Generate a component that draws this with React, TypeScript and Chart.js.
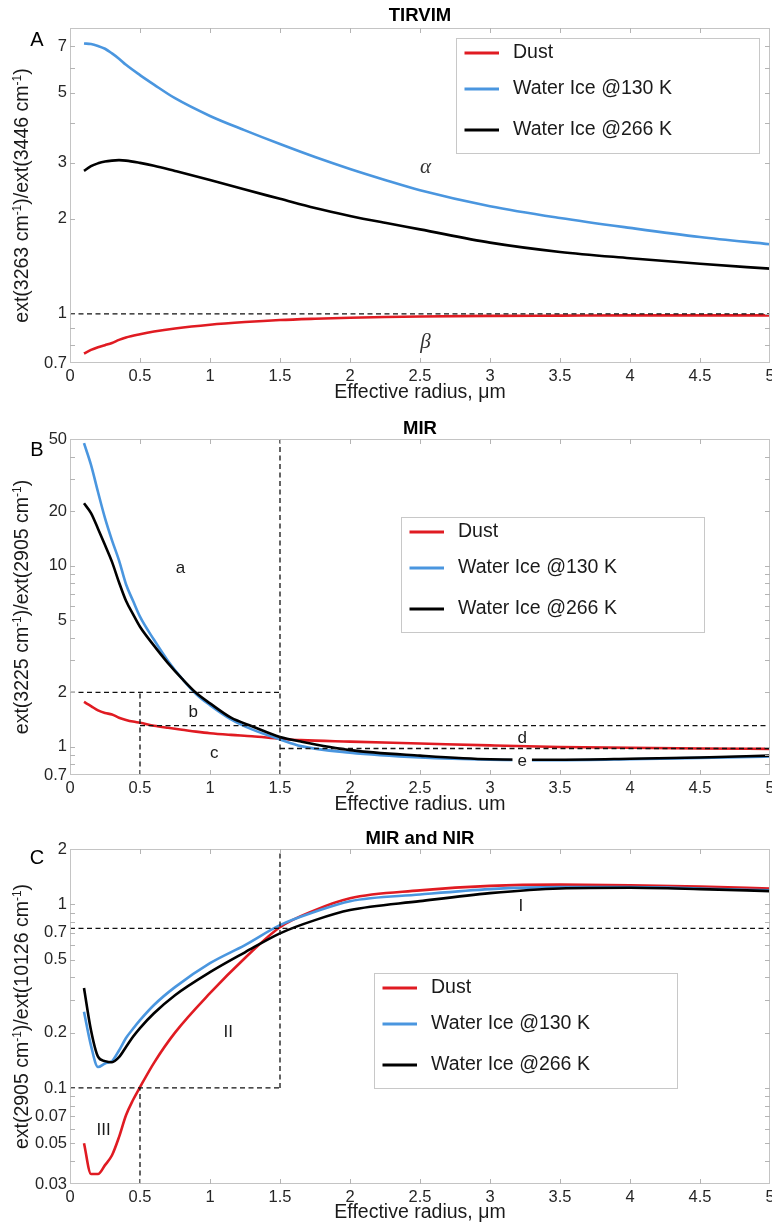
import React, { useEffect, useRef } from "react";
import { Chart, registerables } from "chart.js";

Chart.register(...registerables);

// ---------- shared ----------
const seriesLabels = ["Dust", "Water Ice @130 K", "Water Ice @266 K"];
const seriesColors = ["#e01b22", "#4a96df", "#000000"];
const xTickLabels = ["0", "0.5", "1", "1.5", "2", "2.5", "3", "3.5", "4", "4.5", "5"];

// ---------- panel A (TIRVIM) ----------
const radiusA = [0.1, 0.15, 0.2, 0.25, 0.3, 0.35, 0.4, 0.5, 0.6, 0.75, 1, 1.25, 1.5, 1.75, 2, 2.25, 2.5, 3, 3.5, 4, 4.5, 5];
const dustA = [0.75, 0.77, 0.785, 0.797, 0.81, 0.828, 0.843, 0.863, 0.88, 0.9, 0.925, 0.943, 0.957, 0.966, 0.973, 0.978, 0.982, 0.986, 0.988, 0.99, 0.99, 0.99];
const ice130A = [7.15, 7.12, 7.02, 6.88, 6.65, 6.4, 6.12, 5.68, 5.3, 4.8, 4.22, 3.8, 3.44, 3.13, 2.87, 2.65, 2.46, 2.19, 2.01, 1.87, 1.75, 1.66];
const ice266A = [2.83, 2.93, 2.99, 3.03, 3.05, 3.06, 3.05, 3.0, 2.94, 2.83, 2.65, 2.47, 2.31, 2.16, 2.04, 1.94, 1.85, 1.68, 1.57, 1.5, 1.44, 1.39];
const yTicksA = [0.7, 0.8, 0.9, 1, 2, 3, 4, 5, 6, 7, 8];
const yTickLabelsA = ["0.7", "1", "2", "3", "5", "7"];

// ---------- panel B (MIR) ----------
const radiusB = [0.1, 0.15, 0.2, 0.25, 0.3, 0.35, 0.4, 0.45, 0.5, 0.6, 0.7, 0.8, 0.9, 1, 1.15, 1.3, 1.5, 1.65, 2, 2.5, 3, 3.5, 4, 4.5, 5];
const dustB = [1.77, 1.68, 1.59, 1.54, 1.51, 1.45, 1.41, 1.38, 1.36, 1.31, 1.275, 1.245, 1.215, 1.19, 1.165, 1.145, 1.11, 1.09, 1.07, 1.045, 1.02, 1.0, 0.99, 0.98, 0.975];
const ice130B = [47.4, 36, 25.5, 18.3, 13.8, 10.7, 7.9, 6.4, 5.23, 3.9, 2.98, 2.38, 1.96, 1.7, 1.42, 1.25, 1.1, 1.01, 0.93, 0.875, 0.85, 0.845, 0.855, 0.87, 0.885];
const ice266B = [22.1, 19.5, 16.0, 13.0, 10.5, 8.1, 6.4, 5.4, 4.6, 3.62, 2.9, 2.38, 1.99, 1.74, 1.45, 1.3, 1.135, 1.07, 0.96, 0.895, 0.855, 0.85, 0.86, 0.875, 0.895];
const yTicksB = [0.7, 0.8, 0.9, 1, 2, 3, 4, 5, 6, 7, 8, 9, 10, 20, 30, 40, 50];
const yTickLabelsB = ["0.7", "1", "2", "5", "10", "20", "50"];

// ---------- panel C (MIR and NIR) ----------
const radiusC = [0.1, 0.15, 0.2, 0.25, 0.3, 0.35, 0.4, 0.45, 0.5, 0.6, 0.75, 1, 1.25, 1.5, 1.75, 2, 2.5, 3, 3.5, 4, 4.5, 5];
const dustC = [0.05, 0.034, 0.034, 0.038, 0.043, 0.054, 0.071, 0.086, 0.101, 0.137, 0.2, 0.328, 0.51, 0.75, 0.93, 1.08, 1.19, 1.26, 1.28, 1.27, 1.25, 1.22];
const ice130C = [0.26, 0.17, 0.13, 0.136, 0.14, 0.16, 0.187, 0.21, 0.234, 0.283, 0.354, 0.478, 0.6, 0.77, 0.91, 1.04, 1.13, 1.21, 1.24, 1.24, 1.22, 1.19];
const ice266C = [0.35, 0.206, 0.148, 0.14, 0.138, 0.147, 0.167, 0.19, 0.212, 0.255, 0.32, 0.427, 0.548, 0.695, 0.82, 0.93, 1.04, 1.15, 1.22, 1.23, 1.21, 1.18];
const yTicksC = [0.03, 0.04, 0.05, 0.06, 0.07, 0.08, 0.09, 0.1, 0.2, 0.3, 0.4, 0.5, 0.6, 0.7, 0.8, 0.9, 1, 2];
const yTickLabelsC = ["0.03", "0.05", "0.07", "0.1", "0.2", "0.5", "0.7", "1", "2"];

// ---------- annotations (data coordinates) ----------
type Seg = [number, number, number, number];
type Lbl = { x: number; y: number; text: string; greek?: boolean; bg?: boolean };

const dashedA: Seg[] = [[0, 1.0, 5, 1.0]];
const labelsA: Lbl[] = [
  { x: 2.54, y: 2.9, text: "α", greek: true },
  { x: 2.54, y: 0.815, text: "β", greek: true },
];
const dashedB: Seg[] = [
  [1.5, 0.7, 1.5, 50],
  [0, 2, 1.5, 2],
  [0.5, 0.7, 0.5, 2],
  [0.5, 1.31, 5, 1.31],
  [1.5, 0.98, 5, 0.98],
];
const labelsB: Lbl[] = [
  { x: 0.79, y: 9.7, text: "a" },
  { x: 0.88, y: 1.56, text: "b" },
  { x: 1.03, y: 0.92, text: "c" },
  { x: 3.23, y: 1.12, text: "d" },
  { x: 3.23, y: 0.835, text: "e", bg: true },
];
const dashedC: Seg[] = [
  [1.5, 0.1, 1.5, 2],
  [0, 0.1, 1.5, 0.1],
  [0.5, 0.03, 0.5, 0.1],
  [0, 0.74, 5, 0.74],
];
const labelsC: Lbl[] = [
  { x: 3.22, y: 0.98, text: "I" },
  { x: 1.13, y: 0.2, text: "II" },
  { x: 0.24, y: 0.059, text: "III" },
];

const SANS = '"Liberation Sans", Arial, Helvetica, sans-serif';
const SERIF = '"Liberation Serif", "DejaVu Serif", "Times New Roman", serif';

interface PanelCfg {
  key: string;
  height: number;
  plotTop: number;
  plotBottom: number;
  title: string;
  titleY: number;
  letterY: number;
  radius: number[];
  series: number[][];
  yMin: number;
  yMax: number;
  yTicks: number[];
  yTickLabels: string[];
  num: string;
  den: string;
  xTitle: string;
  xTitleY: number;
  dashed: Seg[];
  labels: Lbl[];
  legend: { x: number; y: number };
}

const panels: PanelCfg[] = [
  {
    key: "A", height: 410, plotTop: 28, plotBottom: 363, title: "TIRVIM", titleY: 16, letterY: 40,
    radius: radiusA, series: [dustA, ice130A, ice266A], yMin: 0.7, yMax: 8,
    yTicks: yTicksA, yTickLabels: yTickLabelsA, num: "3263", den: "3446",
    xTitle: "Effective radius, μm", xTitleY: 393, dashed: dashedA, labels: labelsA,
    legend: { x: 456, y: 38 },
  },
  {
    key: "B", height: 410, plotTop: 29, plotBottom: 365, title: "MIR", titleY: 19, letterY: 40,
    radius: radiusB, series: [dustB, ice130B, ice266B], yMin: 0.7, yMax: 50,
    yTicks: yTicksB, yTickLabels: yTickLabelsB, num: "3225", den: "2905",
    xTitle: "Effective radius. um", xTitleY: 395, dashed: dashedB, labels: labelsB,
    legend: { x: 401, y: 107 },
  },
  {
    key: "C", height: 406, plotTop: 29, plotBottom: 364, title: "MIR and NIR", titleY: 19, letterY: 38,
    radius: radiusC, series: [dustC, ice130C, ice266C], yMin: 0.03, yMax: 2,
    yTicks: yTicksC, yTickLabels: yTickLabelsC, num: "2905", den: "10126",
    xTitle: "Effective radius, μm", xTitleY: 393, dashed: dashedC, labels: labelsC,
    legend: { x: 374, y: 153 },
  },
];

const WIDTH = 772;
const PLOT_LEFT = 70;
const PLOT_RIGHT_PAD = 2;

function drawYTitle(ctx: CanvasRenderingContext2D, num: string, den: string, cx: number, cy: number) {
  const size = 19.5;
  const parts = [
    { t: `ext(${num} cm`, sup: false },
    { t: "-1", sup: true },
    { t: `)/ext(${den} cm`, sup: false },
    { t: "-1", sup: true },
    { t: ")", sup: false },
  ];
  const mainFont = `${size}px ${SANS}`;
  const supFont = `12px ${SANS}`;
  ctx.save();
  ctx.translate(cx, cy);
  ctx.rotate(-Math.PI / 2);
  let total = 0;
  for (const p of parts) {
    ctx.font = p.sup ? supFont : mainFont;
    total += ctx.measureText(p.t).width;
  }
  let x = -total / 2;
  ctx.textAlign = "left";
  ctx.textBaseline = "alphabetic";
  ctx.fillStyle = "#1a1a1a";
  const base = size * 0.36;
  for (const p of parts) {
    ctx.font = p.sup ? supFont : mainFont;
    ctx.fillText(p.t, x, p.sup ? base - 7.5 : base);
    x += ctx.measureText(p.t).width;
  }
  ctx.restore();
}

function makePlugin(cfg: PanelCfg) {
  return {
    id: "decor" + cfg.key,
    afterDatasetsDraw(chart: any) {
      const ctx: CanvasRenderingContext2D = chart.ctx;
      const xs = chart.scales.x;
      const ys = chart.scales.y;
      const ca = chart.chartArea;
      const px = (v: number) => xs.getPixelForValue(v);
      const py = (v: number) => ys.getPixelForValue(v);

      // dashed reference lines
      ctx.save();
      ctx.beginPath();
      ctx.rect(ca.left, ca.top, ca.right - ca.left, ca.bottom - ca.top);
      ctx.clip();
      ctx.setLineDash([5, 3.5]);
      ctx.lineWidth = 1.3;
      ctx.strokeStyle = "#111111";
      for (const [x1, y1, x2, y2] of cfg.dashed) {
        ctx.beginPath();
        ctx.moveTo(px(x1), py(y1));
        ctx.lineTo(px(x2), py(y2));
        ctx.stroke();
      }
      ctx.setLineDash([]);

      // region labels
      ctx.textAlign = "center";
      ctx.textBaseline = "middle";
      for (const l of cfg.labels) {
        const x = px(l.x);
        const y = py(l.y);
        ctx.font = l.greek ? `italic 21px ${SERIF}` : `17px ${SANS}`;
        if (l.bg) {
          const w = ctx.measureText(l.text).width;
          ctx.fillStyle = "#ffffff";
          ctx.fillRect(x - w / 2 - 5, y - 8, w + 10, 16);
        }
        ctx.fillStyle = l.greek ? "#333333" : "#1a1a1a";
        ctx.fillText(l.text, x, y);
      }
      ctx.restore();

      // axes box
      ctx.save();
      ctx.strokeStyle = "#c4c4c4";
      ctx.lineWidth = 1;
      ctx.strokeRect(ca.left + 0.5, ca.top + 0.5, ca.right - ca.left - 1, ca.bottom - ca.top - 1);

      // inward tick marks
      const tl = 5;
      ctx.strokeStyle = "#b4b4b4";
      ctx.beginPath();
      for (const v of cfg.yTicks) {
        const y = Math.round(py(v)) + 0.5;
        if (y < ca.top + 1 || y > ca.bottom - 1) continue;
        ctx.moveTo(ca.left, y);
        ctx.lineTo(ca.left + tl, y);
        ctx.moveTo(ca.right, y);
        ctx.lineTo(ca.right - tl, y);
      }
      for (const s of xTickLabels) {
        const x = Math.round(px(parseFloat(s))) + 0.5;
        if (x < ca.left + 1 || x > ca.right - 1) continue;
        ctx.moveTo(x, ca.top);
        ctx.lineTo(x, ca.top + tl);
        ctx.moveTo(x, ca.bottom);
        ctx.lineTo(x, ca.bottom - tl);
      }
      ctx.stroke();

      // tick labels
      ctx.fillStyle = "#262626";
      ctx.font = `16.5px ${SANS}`;
      ctx.textBaseline = "middle";
      ctx.textAlign = "right";
      for (const s of cfg.yTickLabels) {
        ctx.fillText(s, ca.left - 3, py(parseFloat(s)));
      }
      ctx.textAlign = "center";
      for (const s of xTickLabels) {
        ctx.fillText(s, px(parseFloat(s)), ca.bottom + 13.5);
      }

      // axis titles
      ctx.fillStyle = "#1a1a1a";
      ctx.font = `19.5px ${SANS}`;
      ctx.fillText(cfg.xTitle, (ca.left + ca.right) / 2, cfg.xTitleY);
      drawYTitle(ctx, cfg.num, cfg.den, 21, (ca.top + ca.bottom) / 2);

      // chart title and panel letter
      ctx.fillStyle = "#000000";
      ctx.font = `bold 18.5px ${SANS}`;
      ctx.fillText(cfg.title, (ca.left + ca.right) / 2, cfg.titleY);
      ctx.font = `20px ${SANS}`;
      ctx.fillText(cfg.key, 37, cfg.letterY);

      // legend
      const lg = cfg.legend;
      const lw = 303;
      const lh = 115;
      ctx.fillStyle = "#ffffff";
      ctx.fillRect(lg.x, lg.y, lw, lh);
      ctx.strokeStyle = "#c8c8c8";
      ctx.lineWidth = 1;
      ctx.strokeRect(lg.x + 0.5, lg.y + 0.5, lw, lh);
      const rows = [15, 51, 92];
      ctx.textAlign = "left";
      ctx.textBaseline = "middle";
      ctx.font = `19.5px ${SANS}`;
      chart.data.datasets.forEach((ds: any, i: number) => {
        const y = lg.y + rows[i];
        ctx.strokeStyle = ds.borderColor;
        ctx.lineWidth = 3;
        ctx.beginPath();
        ctx.moveTo(lg.x + 8.5, y);
        ctx.lineTo(lg.x + 43, y);
        ctx.stroke();
        ctx.fillStyle = "#1a1a1a";
        ctx.fillText(ds.label, lg.x + 57, y);
      });
      ctx.restore();
    },
  };
}

function Panel({ cfg }: { cfg: PanelCfg }) {
  const ref = useRef<HTMLCanvasElement | null>(null);
  useEffect(() => {
    if (!ref.current) return;
    const datasets = cfg.series.map((vals, i) => ({
      label: seriesLabels[i],
      data: cfg.radius.map((x, j) => ({ x, y: vals[j] })),
      borderColor: seriesColors[i],
      backgroundColor: seriesColors[i],
      borderWidth: 2.6,
      pointRadius: 0,
      fill: false,
      cubicInterpolationMode: "monotone" as const,
      order: 2 - i,
    }));
    const chart = new Chart(ref.current, {
      type: "line",
      data: { datasets },
      options: {
        responsive: false,
        animation: false,
        events: [],
        layout: {
          padding: {
            left: PLOT_LEFT,
            right: PLOT_RIGHT_PAD,
            top: cfg.plotTop,
            bottom: cfg.height - cfg.plotBottom,
          },
        },
        plugins: {
          legend: { display: false },
          title: { display: false },
          tooltip: { enabled: false },
        },
        scales: {
          x: { type: "linear", min: 0, max: 5, display: false },
          y: { type: "logarithmic", min: cfg.yMin, max: cfg.yMax, display: false },
        },
      },
      plugins: [makePlugin(cfg)],
    });
    return () => chart.destroy();
  }, [cfg]);
  return (
    <canvas
      ref={ref}
      width={WIDTH}
      height={cfg.height}
      style={{ display: "block", width: WIDTH, height: cfg.height }}
    />
  );
}

export default function App() {
  useEffect(() => {
    document.body.style.margin = "0";
    document.body.style.background = "#ffffff";
  }, []);
  return (
    <div style={{ position: "absolute", left: 0, top: 0, width: WIDTH, background: "#fff" }}>
      {panels.map((p) => (
        <Panel key={p.key} cfg={p} />
      ))}
    </div>
  );
}
